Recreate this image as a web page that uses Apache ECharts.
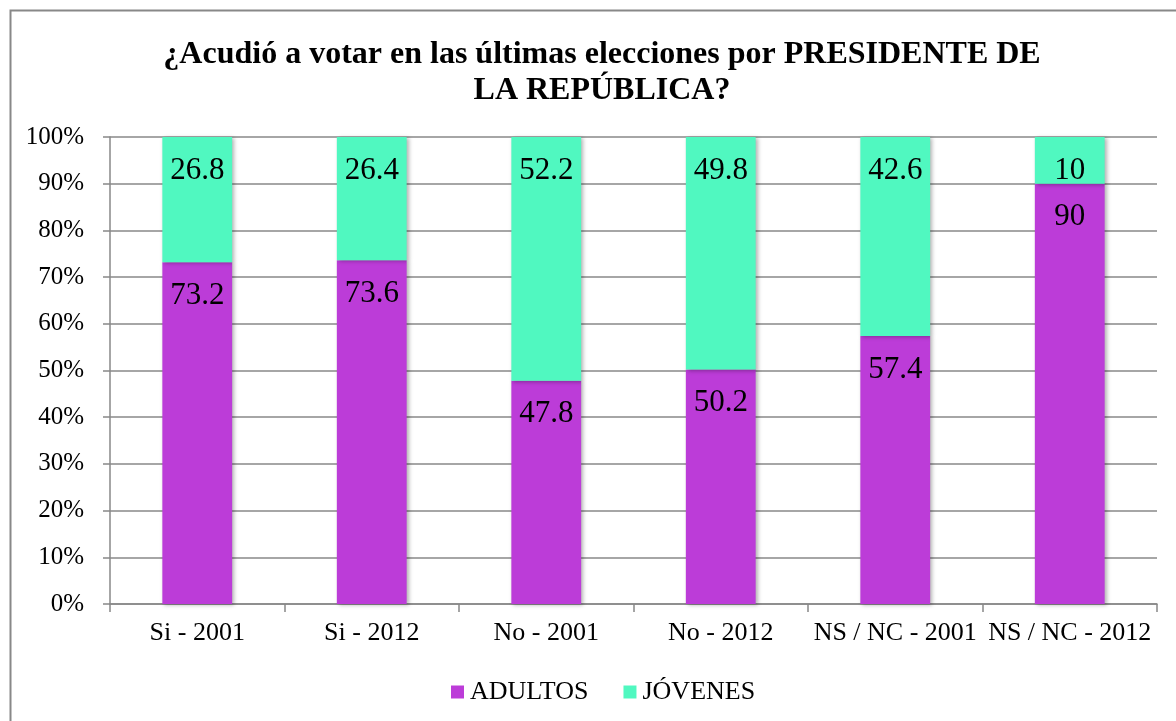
<!DOCTYPE html>
<html>
<head>
<meta charset="utf-8">
<script src="https://cdn.jsdelivr.net/npm/echarts@6/dist/echarts.min.js"></script>
<style>
html,body{margin:0;padding:0;background:#fff;}
#c{width:1176px;height:721px;}
</style>
</head>
<body>
<div id="c"></div>
<script>
const categories = ['Si - 2001', 'Si - 2012', 'No - 2001', 'No - 2012', 'NS / NC - 2001', 'NS / NC - 2012'];
const adultos = [73.2, 73.6, 47.8, 50.2, 57.4, 90];
const jovenes = [26.8, 26.4, 52.2, 49.8, 42.6, 10];
const yTicks = [0, 10, 20, 30, 40, 50, 60, 70, 80, 90, 100];

const FONT = '"Liberation Serif", "Times New Roman", serif';
const chart = echarts.init(document.getElementById('c'), null, {renderer: 'canvas'});
const labelCfg = {
  show: true, position: 'insideTop', distance: 18,
  color: '#000', fontFamily: FONT, fontSize: 31
};
const barShadow = {shadowBlur: 4, shadowColor: 'rgba(0,0,0,0.3)', shadowOffsetX: 2, shadowOffsetY: 1};
chart.setOption({
  animation: false,
  backgroundColor: '#fff',
  graphic: [{
    type: 'rect', left: 8, top: 8, shape: {width: 1200, height: 730},
    style: {fill: 'none', stroke: '#888', lineWidth: 2}, silent: true
  }],
  title: {
    text: '¿Acudió a votar en las últimas elecciones por PRESIDENTE DE\nLA REPÚBLICA?',
    left: 597, top: 32, textAlign: 'center',
    textStyle: {fontFamily: FONT, fontWeight: 'bold', fontSize: 32, color: '#000', lineHeight: 36}
  },
  legend: {
    data: ['ADULTOS', 'JÓVENES'],
    left: 446, top: 674,
    icon: 'rect', itemWidth: 13, itemHeight: 13, itemGap: 35,
    textStyle: {fontFamily: FONT, fontSize: 26, color: '#000', padding: [0, 0, 0, 1]}
  },
  grid: {left: 110, right: 19, top: 137, bottom: 117, containLabel: false},
  xAxis: {
    type: 'category', data: categories,
    axisLine: {lineStyle: {color: '#888', width: 1.5}},
    axisTick: {show: true, length: 8, lineStyle: {color: '#888', width: 1.5}},
    axisLabel: {fontFamily: FONT, fontSize: 26, color: '#000', margin: 16, interval: 0}
  },
  yAxis: {
    type: 'value', min: 0, max: 100, interval: 10,
    axisLine: {show: true, lineStyle: {color: '#888', width: 1.5}},
    axisTick: {show: true, length: 7, lineStyle: {color: '#888', width: 1.5}},
    splitLine: {show: true, lineStyle: {color: '#888', width: 1.5}},
    axisLabel: {
      fontFamily: FONT, fontSize: 25, color: '#000', margin: 26,
      formatter: v => yTicks.includes(v) ? v + '%' : ''
    }
  },
  series: [
    {
      name: 'ADULTOS', type: 'bar', stack: 'total', data: adultos, barWidth: '40%',
      itemStyle: Object.assign({color: '#BC3CD8'}, barShadow),
      label: labelCfg
    },
    {
      name: 'JÓVENES', type: 'bar', stack: 'total', data: jovenes, barWidth: '40%',
      itemStyle: Object.assign({color: '#50F8C0'}, barShadow),
      label: labelCfg
    }
  ]
});
</script>
</body>
</html>
